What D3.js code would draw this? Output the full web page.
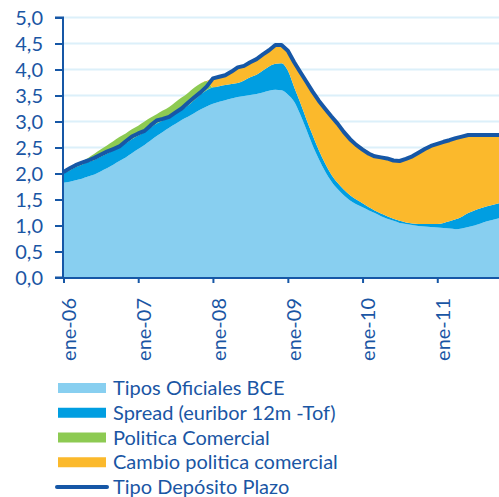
<!DOCTYPE html>
<html><head><meta charset="utf-8">
<script src="https://cdn.jsdelivr.net/npm/d3@7"></script>
<style>
html,body{margin:0;padding:0;background:#fff;}
svg{display:block;}
text{font-family:Lato,"Open Sans",sans-serif;fill:#1a56a4;}
</style></head>
<body>
<svg id="chart" width="499" height="497"></svg>
<script>
// ---- data (monthly, ene-06 .. nov-11) ----
const startMonth = new Date(2006, 0, 1);
const tiposOficiales = [1.82,1.84,1.87,1.90,1.94,1.98,2.04,2.10,2.17,2.24,2.31,2.39,2.47,2.55,2.63,2.72,2.80,2.88,2.95,3.03,3.09,3.16,3.23,3.29,
  3.34,3.38,3.41,3.44,3.47,3.49,3.51,3.53,3.56,3.59,3.61,3.60,3.52,3.38,3.15,2.85,2.55,2.28,2.05,1.85,1.70,1.58,1.48,1.41,
  1.35,1.29,1.24,1.18,1.13,1.09,1.05,1.03,1.01,0.99,0.98,0.97,0.96,0.95,0.94,0.93,0.94,0.97,1.00,1.04,1.08,1.11,1.14];
const spread = [0.19,0.22,0.25,0.27,0.28,0.28,0.28,0.28,0.27,0.27,0.27,0.27,0.26,0.25,0.25,0.24,0.22,0.20,0.20,0.20,0.22,0.25,0.29,0.31,
  0.32,0.30,0.29,0.28,0.27,0.30,0.34,0.37,0.42,0.47,0.50,0.52,0.46,0.28,0.23,0.20,0.20,0.17,0.15,0.13,0.12,0.11,0.10,0.09,
  0.08,0.06,0.05,0.05,0.05,0.04,0.04,0.03,0.03,0.04,0.05,0.06,0.07,0.10,0.14,0.19,0.23,0.27,0.29,0.29,0.29,0.29,0.29];
const politicaComercial = [0.03,0.04,0.05,0.06,0.08,0.12,0.14,0.16,0.18,0.19,0.19,0.19,0.19,0.20,0.19,0.18,0.19,0.20,0.22,0.23,0.24,0.24,0.21,0.18,
  0,0,0,0,0,0,0,0,0,0,0,0,0,0,0,0,0,0,0,0,0,0,0,0,
  0,0,0,0,0,0,0,0,0,0,0,0,0,0,0,0,0,0,0,0,0,0,0];
const cambioPolitica = [0,0,0,0,0,0,0,0,0,0,0,0,0,0,0,0,0,0,0,0,0,0,0,0,
  0.17,0.18,0.19,0.24,0.30,0.28,0.29,0.30,0.31,0.31,0.36,0.35,0.38,0.48,0.58,0.72,0.83,0.95,1.05,1.12,1.14,1.11,1.08,1.08,
  1.07,1.07,1.07,1.10,1.11,1.12,1.15,1.22,1.29,1.37,1.44,1.50,1.54,1.56,1.56,1.56,1.54,1.50,1.45,1.41,1.37,1.34,1.31];
const tipoDeposito = [2.03,2.10,2.16,2.21,2.25,2.30,2.36,2.42,2.47,2.52,2.62,2.71,2.77,2.82,2.92,3.02,3.05,3.09,3.17,3.25,3.36,3.46,3.56,3.67,
  3.83,3.86,3.89,3.96,4.04,4.07,4.14,4.20,4.29,4.37,4.47,4.47,4.36,4.14,3.96,3.77,3.58,3.40,3.25,3.10,2.96,2.80,2.66,2.55,
  2.46,2.38,2.33,2.31,2.29,2.25,2.24,2.28,2.33,2.40,2.47,2.53,2.57,2.61,2.64,2.68,2.71,2.74,2.74,2.74,2.74,2.74,2.74];
const yTicks = [0,0.5,1,1.5,2,2.5,3,3.5,4,4.5,5];
const xTickLabels = ["ene-06","ene-07","ene-08","ene-09","ene-10","ene-11"];
const xTickDates = [new Date(2006,0,1),new Date(2007,0,1),new Date(2008,0,1),new Date(2009,0,1),new Date(2010,0,1),new Date(2011,0,1)];
const seriesNames = ["Tipos Oficiales BCE","Spread (euribor 12m -Tof)","Politica Comercial","Cambio politica comercial","Tipo Depósito Plazo"];
const seriesColors = ["#88cff0","#009ee1","#8dca52","#fbb92c","#1657a6"];

// ---- build ----
const months = d3.timeMonth.range(startMonth, new Date(2011, 11, 1));
const table = months.map((d,i)=>({date:d, tof:tiposOficiales[i], spread:spread[i], pc:politicaComercial[i], cpc:cambioPolitica[i], dep:tipoDeposito[i]}));
const keys = ["tof","spread","pc","cpc"];
const stacked = d3.stack().keys(keys)(table);

const svg = d3.select("#chart");
const x = d3.scaleTime().domain([months[0], months[months.length-1]]).range([63.5, 499.5]);
const y = d3.scaleLinear().domain([0,5]).range([277.5, 17.5]);
const axisColor = "#1657a6";

// grid
svg.append("g").selectAll("line").data(yTicks.filter(v=>v>0)).join("line")
  .attr("x1",63).attr("x2",499).attr("y1",d=>y(d)).attr("y2",d=>y(d))
  .attr("stroke","#dcf0fa").attr("stroke-width",2);

// areas
const area = d3.area().x(d=>x(d.data.date)).y0(d=>y(d[0])).y1(d=>y(d[1])).curve(d3.curveMonotoneX);
svg.append("g").selectAll("path").data(stacked).join("path")
  .attr("d",area).attr("fill",(d,i)=>seriesColors[i]);

// line
const line = d3.line().x(d=>x(d.date)).y(d=>y(d.dep));
svg.append("path").datum(table).attr("d",line).attr("fill","none")
  .attr("stroke",seriesColors[4]).attr("stroke-width",4).attr("stroke-linejoin","round");

// y axis
const yAxis = d3.axisLeft(y).tickValues(yTicks).tickFormat(d=>d.toFixed(1).replace(".",",")).tickSize(8).tickPadding(12);
const gy = svg.append("g").attr("transform","translate(63,0)").call(yAxis);
gy.select(".domain").attr("stroke",axisColor).attr("stroke-width",2).attr("d","M-8,"+y(5)+"H0V"+y(0)+"H-8");
gy.selectAll(".tick line").attr("stroke",axisColor).attr("stroke-width",2);
gy.selectAll(".tick text").attr("fill","#1a56a4").style("font-size","20px").style("font-family","Lato").attr("dy","0.36em");

// x axis
const xAxis = d3.axisBottom(x).tickValues(xTickDates).tickFormat((d,i)=>xTickLabels[i]).tickSize(5).tickPadding(8);
const gx = svg.append("g").attr("transform","translate(0,278)").call(xAxis);
gx.select(".domain").attr("stroke",axisColor).attr("stroke-width",2).attr("d","M55,0H499");
gx.selectAll(".tick line").attr("stroke",axisColor).attr("stroke-width",2);
gx.selectAll(".tick text").attr("fill","#1a56a4").style("font-size","20px").style("font-family","Lato")
  .attr("transform","rotate(-90)").attr("text-anchor","end").attr("dx","-20").attr("dy","0.62em").attr("x",0).attr("y",0);

// legend
const lg = svg.append("g");
const rowY = d3.scaleLinear().domain([0,4]).range([388,487]);
seriesNames.forEach((name,i)=>{
  const cy = rowY(i);
  if (i<4) lg.append("rect").attr("x",58).attr("y",cy-5).attr("width",48).attr("height",10).attr("fill",seriesColors[i]);
  else lg.append("line").attr("x1",57).attr("x2",107).attr("y1",cy).attr("y2",cy).attr("stroke",seriesColors[i]).attr("stroke-width",4).attr("stroke-linecap","round");
  lg.append("text").attr("x",113).attr("y",cy).attr("dy","0.36em").style("font-size","20px").text(name);
});
</script>
</body></html>
